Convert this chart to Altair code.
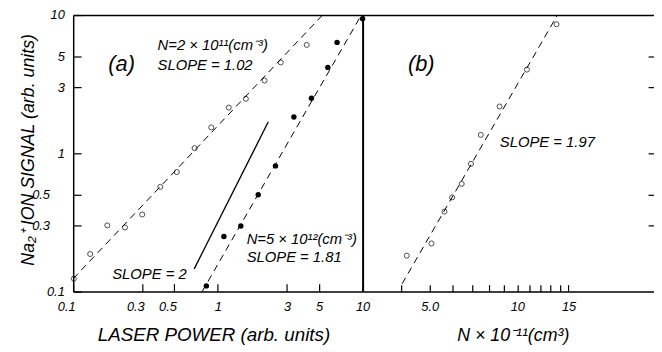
import altair as alt
import pandas as pd

FONT = "Liberation Sans"

# ---------------- data ----------------
# panel (a): N = 2e11 cm^-3 (open circles)
open_power = [0.101, 0.131, 0.172, 0.228, 0.30, 0.40, 0.52, 0.69, 0.90, 1.19, 1.56, 2.10, 2.72, 4.11]
open_signal = [0.124, 0.187, 0.301, 0.291, 0.361, 0.572, 0.732, 1.09, 1.54, 2.14, 2.48, 3.36, 4.54, 6.08]
# panel (a): N = 5e12 cm^-3 (filled circles)
filled_power = [0.832, 1.10, 1.44, 1.90, 2.50, 3.35, 4.43, 5.75, 6.66, 10.0]
filled_signal = [0.110, 0.250, 0.298, 0.501, 0.811, 1.83, 2.50, 4.18, 6.34, 9.4]
# panel (b): signal vs density
density = [4.17, 5.07, 5.62, 5.97, 6.44, 6.93, 7.49, 8.69, 10.79, 13.64]
density_signal = [0.182, 0.223, 0.379, 0.480, 0.601, 0.839, 1.36, 2.18, 4.03, 8.58]

# fitted (dashed) lines and the slope-2 guide
fit_series = ["low N", "low N", "high N", "high N"]
fit_power = [0.1, 5.29, 0.778, 9.8]
fit_signal = [0.124, 10.0, 0.1, 10.0]
slope2_power = [0.686, 2.23]
slope2_signal = [0.146, 1.69]
fit_density = [4.02, 13.74]
fit_density_signal = [0.114, 10.0]

# annotations
left_labels = ["(a)", "N=2 × 10¹¹(cm⁻³)", "SLOPE = 1.02", "SLOPE = 2", "N=5 × 10¹²(cm⁻³)", "SLOPE = 1.81"]
left_label_x = [0.175, 0.383, 0.383, 0.186, 1.58, 1.58]
left_label_y = [4.39, 6.1, 4.37, 0.134, 0.239, 0.178]
left_label_size = [22, 15, 15, 15, 15, 15]
right_labels = ["(b)", "SLOPE = 1.97"]
right_label_x = [4.21, 8.71]
right_label_y = [4.39, 1.20]
right_label_size = [22, 15]

# tick values
left_x_ticks_main = [1, 3, 5, 10]
left_x_ticks_minor = [0.1, 0.3, 0.5]
left_y_ticks_main = [0.1, 1, 3, 5, 10]
left_y_ticks_minor = [0.3, 0.5]
right_x_ticks = [4, 5, 6, 7, 8, 9, 10, 11, 12, 13, 14, 15]
right_y_ticks = [0.3, 0.5, 1, 3, 5]

# ---------------- tables ----------------
df_open = pd.DataFrame({"x": open_power, "y": open_signal})
df_filled = pd.DataFrame({"x": filled_power, "y": filled_signal})
df_fit = pd.DataFrame({"x": fit_power, "y": fit_signal, "s": fit_series})
df_s2 = pd.DataFrame({"x": slope2_power, "y": slope2_signal})
df_ltxt = pd.DataFrame({"x": left_label_x, "y": left_label_y, "label": left_labels, "size": left_label_size})
df_right = pd.DataFrame({"x": density, "y": density_signal})
df_rfit = pd.DataFrame({"x": fit_density, "y": fit_density_signal})
df_rtxt = pd.DataFrame({"x": right_label_x, "y": right_label_y, "label": right_labels, "size": right_label_size})

W, H, SPLIT = 588, 280, 293

def xl():
    return alt.Scale(type="log", domain=[0.1, 10], range=[0, SPLIT], nice=False)

def xr():
    return alt.Scale(type="log", domain=[2.94, 29.5], range=[SPLIT, W], nice=False)

def ys():
    return alt.Scale(type="log", domain=[0.1, 10], nice=False)

num_label = "datum.value < 1 ? format(datum.value, '.1f') : format(datum.value, 'd')"

def border(orient, offset=0, width=1.5):
    return alt.Axis(orient=orient, offset=offset, domain=True, domainWidth=width,
                    ticks=False, labels=False, title=None)

xL_main = alt.Axis(orient="bottom", offset=-8, tickSize=8, tickWidth=1.2, domain=False,
                   values=left_x_ticks_main, labelExpr=num_label, labelBaseline="middle",
                   labelPadding=15, title="LASER POWER (arb. units)", titleX=142, titleY=52,
                   titleAlign="center", titleBaseline="middle", titleFontSize=19)
xL_minor = alt.Axis(orient="bottom", offset=-8, tickSize=8, tickWidth=1.2, domain=False,
                    values=left_x_ticks_minor, labelExpr=num_label, labelBaseline="middle",
                    labelPadding=15, labelOffset=-7, title=None)
yL_main = alt.Axis(orient="left", offset=-8, tickSize=8, tickWidth=1.2, domain=False,
                   values=left_y_ticks_main, labelExpr=num_label, labelPadding=9,
                   labelAlign="right", labelBaseline="middle",
                   title="Na₂⁺ ION SIGNAL (arb. units)", titleX=-53, titleY=136,
                   titleAngle=270, titleAlign="center", titleBaseline="middle")
yL_minor = alt.Axis(orient="left", offset=-8, tickSize=8, tickWidth=1.2, domain=False,
                    values=left_y_ticks_minor, labelExpr=num_label, labelPadding=24,
                    labelAlign="right", labelBaseline="middle", title=None)
xR_main = alt.Axis(orient="bottom", offset=-7, tickSize=7, tickWidth=1.2, domain=False,
                   values=right_x_ticks,
                   labelExpr="datum.value == 5 ? '5.0' : datum.value == 10 ? '10' : datum.value == 15 ? '15' : ''",
                   labelBaseline="middle", labelPadding=15,
                   title="N × 10⁻¹¹(cm³)", titleX=445, titleY=51,
                   titleAlign="center", titleBaseline="middle")
yR_ticks = alt.Axis(orient="right", offset=-6, tickSize=6, tickWidth=1.2, domain=False,
                    labels=False, values=right_y_ticks, title=None)

L1 = alt.Chart(df_open).mark_point(shape="circle", filled=False, color="black", size=26, strokeWidth=1).encode(
    x=alt.X("x:Q", scale=xl(), axis=xL_main),
    y=alt.Y("y:Q", scale=ys(), axis=yL_main),
)
L2 = alt.Chart(df_filled).mark_circle(color="black", size=30, opacity=1).encode(
    x=alt.X("x:Q", scale=xl(), axis=border("top")),
    y=alt.Y("y:Q", scale=ys(), axis=border("left")),
)
L3 = alt.Chart(df_fit).mark_line(color="black", strokeWidth=1, strokeDash=[7, 5]).encode(
    x=alt.X("x:Q", scale=xl(), axis=border("bottom")),
    y=alt.Y("y:Q", scale=ys(), axis=border("right", offset=-(W - SPLIT), width=2)),
    detail="s:N",
)
L4 = alt.Chart(df_s2).mark_line(color="black", strokeWidth=1.3).encode(
    x=alt.X("x:Q", scale=xl(), axis=xL_minor),
    y=alt.Y("y:Q", scale=ys(), axis=yL_minor),
)
L5 = alt.Chart(df_ltxt).mark_text(align="left", baseline="middle", font=FONT, fontStyle="italic", color="black").encode(
    x=alt.X("x:Q", scale=xl(), axis=None),
    y=alt.Y("y:Q", scale=ys(), axis=None),
    text="label:N",
    size=alt.Size("size:Q", scale=None),
)
R1 = alt.Chart(df_right).mark_point(shape="circle", filled=False, color="black", size=26, strokeWidth=1).encode(
    x=alt.X("x:Q", scale=xr(), axis=xR_main),
    y=alt.Y("y:Q", scale=ys(), axis=yR_ticks),
)
R2 = alt.Chart(df_rfit).mark_line(color="black", strokeWidth=1, strokeDash=[7, 5]).encode(
    x=alt.X("x:Q", scale=xr(), axis=border("top")),
    y=alt.Y("y:Q", scale=ys(), axis=None),
)
R3 = alt.Chart(df_rtxt).mark_text(align="left", baseline="middle", font=FONT, fontStyle="italic", color="black").encode(
    x=alt.X("x:Q", scale=xr(), axis=border("bottom")),
    y=alt.Y("y:Q", scale=ys(), axis=None),
    text="label:N",
    size=alt.Size("size:Q", scale=None),
)

chart = (
    alt.layer(L3, R2, L4, L1, L2, R1, L5, R3)
    .resolve_scale(x="independent", y="independent")
    .resolve_axis(x="independent", y="independent")
    .properties(width=W, height=H, autosize=alt.AutoSizeParams(type="none"),
                padding={"left": 66, "top": 5, "right": 0, "bottom": 57}, background="white")
    .configure_view(stroke=None)
    .configure_axis(grid=False, labelFont=FONT, labelFontStyle="italic", labelFontSize=13,
                    labelColor="black", titleFont=FONT, titleFontStyle="italic",
                    titleFontWeight="normal", titleFontSize=18, titleColor="black",
                    tickColor="black", domainColor="black", labelOverlap=False, labelFlush=False)
)

chart.save("out.html", embed_options={"renderer": "svg", "actions": False})
